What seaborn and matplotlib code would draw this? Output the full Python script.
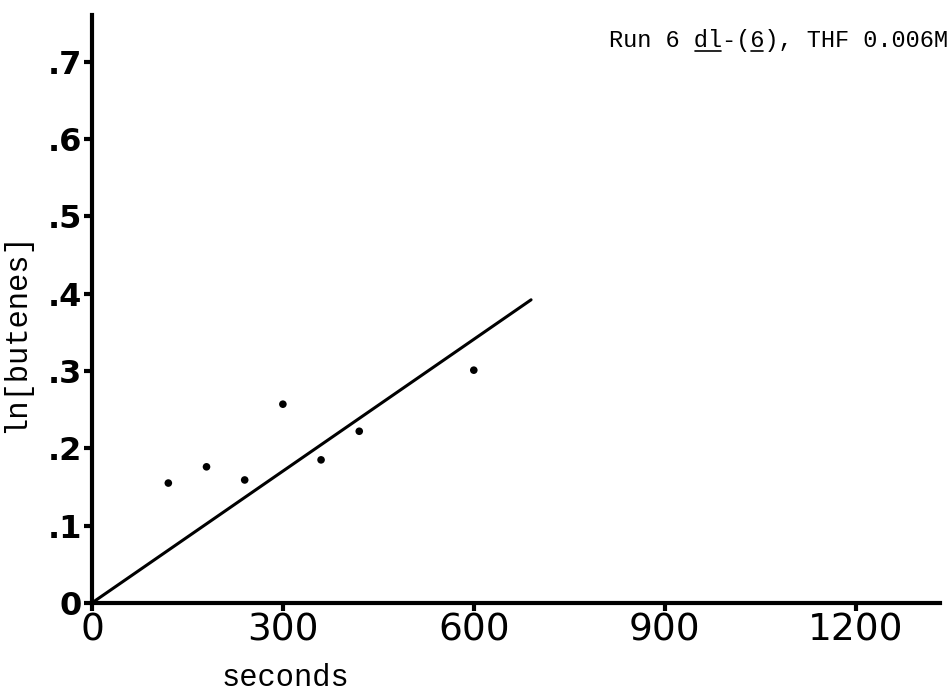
import numpy as np
import pandas as pd
import seaborn as sns
import matplotlib.pyplot as plt

# data
seconds = [120, 180, 240, 300, 360, 420, 600]
ln_butenes = [0.155, 0.176, 0.159, 0.257, 0.185, 0.222, 0.301]
fit_x = [0, 690]
fit_y = [0, 0.392]

x_ticks = [0, 300, 600, 900, 1200]
x_tick_labels = ['0', '300', '600', '900', '1200']
y_ticks = [0, 0.1, 0.2, 0.3, 0.4, 0.5, 0.6, 0.7]
y_tick_labels = ['0', '.1', '.2', '.3', '.4', '.5', '.6', '.7']

title = 'Run 6 dl-(6), THF 0.006M'

sns.set_theme(style='ticks')
plt.rcParams['font.family'] = ['DejaVu Sans']
plt.rcParams['text.color'] = 'black'
plt.rcParams['axes.labelcolor'] = 'black'

df = pd.DataFrame({'seconds': seconds, 'ln': ln_butenes})

fig = plt.figure(figsize=(9.52, 6.93), dpi=100)
ax = fig.add_axes([0.0966, 0.130, 0.8904, 0.848])

sns.lineplot(x=fit_x, y=fit_y, ax=ax, color='black', linewidth=2.2)
sns.scatterplot(data=df, x='seconds', y='ln', ax=ax, color='black', s=30, edgecolor='none')

ax.set_xlim(0, 1332)
ax.set_ylim(0, 0.76)
ax.set_xticks(x_ticks)
ax.set_xticklabels(x_tick_labels, fontsize=27)
ax.set_yticks(y_ticks)
ax.set_yticklabels(y_tick_labels, fontsize=23, fontweight='bold')

for s in ['top', 'right']:
    ax.spines[s].set_visible(False)
for s in ['left', 'bottom']:
    ax.spines[s].set_linewidth(3)
    ax.spines[s].set_color('black')
ax.tick_params(axis='both', length=6, width=3, color='black', labelcolor='black')
ax.tick_params(axis='x', pad=1)
ax.tick_params(axis='y', pad=1)

ax.set_xlabel('seconds', fontsize=22, family='Liberation Mono', color='black')
ax.xaxis.set_label_coords(0.228, -0.103)
ax.set_ylabel('ln[butenes]', fontsize=22, family='Liberation Mono', color='black')
ax.yaxis.set_label_coords(-0.072, 0.46)

t = fig.text(948 / 952, 1 - 40 / 693, title, ha='right', va='center',
             fontsize=17, family='Liberation Mono', color='black')

# underline "dl" and the second "6"
fig.canvas.draw()
bb = t.get_window_extent()
cw = bb.width / len(title)
for i0, i1 in [(6, 8), (10, 11)]:
    x0 = (bb.x0 + i0 * cw + 1) / fig.bbox.width
    x1 = (bb.x0 + i1 * cw - 1) / fig.bbox.width
    yy = (bb.y0 + 1) / fig.bbox.height
    fig.add_artist(plt.Line2D([x0, x1], [yy, yy], color='black', linewidth=1.2))

fig.savefig('out.png', dpi=100)
